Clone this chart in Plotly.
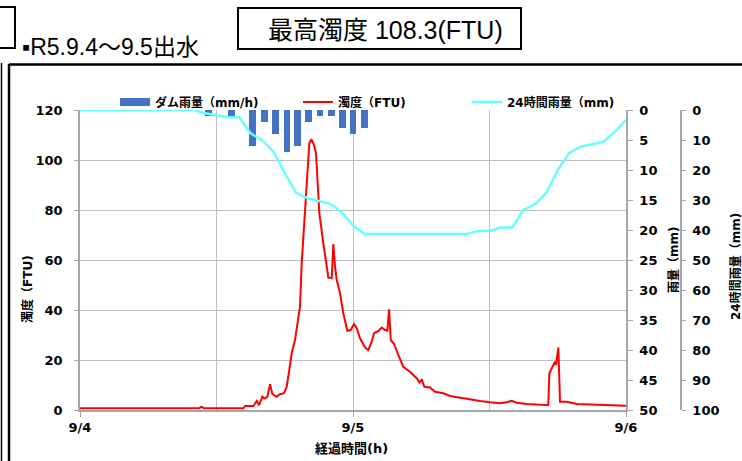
import plotly.graph_objects as go

# ---------------- data ----------------
rain_hours = [11.3, 13.3, 15.2, 16.2, 17.2, 18.2, 19.1, 20.1, 21.1, 22.1, 23.1, 24.0, 25.0]
rain_mm = [1, 1, 6, 2, 4, 7, 6, 2, 1, 1, 3, 4, 3]

cum_hours = list(range(0, 49))
cum24_mm = [0, 0, 0, 0, 0, 0, 0, 0, 0, 0, 0,
            1.1, 1.75, 2.4, 2.4, 7.8, 10, 13.9, 21, 27.6, 29.4, 30.3, 31.3, 34, 38.5, 41.3,
            41.3, 41.3, 41.3, 41.3, 41.3, 41.3, 41.3, 41.3, 41.3,
            40.3, 40.3, 39.2, 39.2, 33.3, 31.4, 27.6, 20, 14.4, 12.2, 11.4, 10.6, 7.4, 3.3]

turb_hours = [0, 10.46, 10.69, 10.89, 14.36, 14.51, 15.24, 15.54, 15.74, 16.03, 16.2, 16.47,
              16.71, 16.91, 17.29, 17.58, 17.94, 18.17, 18.4, 18.61, 18.9, 19.19, 19.34, 19.49,
              19.69, 19.93, 20.16, 20.34, 20.57, 20.75, 20.9, 21.04, 21.39, 21.63, 21.83, 22.13,
              22.27, 22.42, 22.57, 22.86, 23.15, 23.5, 23.8, 24.09, 24.33, 24.62, 25.06, 25.35,
              25.65, 25.85, 26.23, 26.53, 26.82, 27.02, 27.17, 27.32, 27.61, 27.98, 28.42, 29.01,
              29.6, 29.83, 30.04, 30.27, 30.77, 31.21, 31.94, 32.53, 33.85, 35.17, 36.05, 36.93,
              37.51, 37.95, 38.39, 39.27, 40.44, 41.17, 41.26, 41.47, 41.76, 41.85, 42.05, 42.2,
              42.79, 43.67, 45.13, 46.89, 48]
turb_ftu = [0.7, 0.7, 1.3, 0.7, 0.7, 1.6, 1.6, 3.6, 1.9, 5.3, 4.6, 5.3,
            10.3, 6.4, 5.3, 6.3, 6.7, 9.3, 16, 22.7, 28, 36, 41.3, 58.7,
            73.3, 89.3, 106.7, 108.3, 106, 102.7, 89.3, 78.7, 66.7, 60, 53, 52.7,
            66.4, 57.3, 52, 46.7, 38.7, 31.7, 32, 34.3, 32.7, 28.7, 25, 24,
            27.3, 30.7, 31.6, 33, 32, 31.7, 40.3, 28, 26.4, 22, 17.3, 15.3,
            12.7, 11, 12.3, 9.3, 9, 7.3, 6.7, 5.6, 4.5, 3.6, 3.1, 2.7,
            3.1, 3.7, 2.9, 2.4, 2.1, 2.0, 14.7, 16.7, 19.3, 18, 25, 3.3,
            3.3, 2.4, 2.1, 1.9, 1.7]

x_tickvals = [0, 24, 48]
x_ticktext = ["9/4", "9/5", "9/6"]

# ---------------- layout helpers ----------------
W, H = 742, 461
L, R, T, B = 80, 5, 110, 51
PW = W - L - R
PH = H - T - B


def px(x):
    return (x - L) / PW


def py(y):
    return (H - B - y) / PH


FONT = "DejaVu Sans, Noto Sans CJK JP, sans-serif"
TFONT = "Liberation Sans, Noto Sans CJK JP, sans-serif"
GRID = "#bfbfbf"
AX = "#a6a6a6"

fig = go.Figure()

# legend proxy for bars (wide rectangle symbol)
fig.add_trace(go.Scatter(x=[None], y=[None], mode="lines", name="ダム雨量（mm/h)",
                         line=dict(color="#4472C4", width=8), yaxis="y2", legend="legend"))
fig.add_trace(go.Bar(x=rain_hours, y=rain_mm, width=0.6, marker=dict(color="#4472C4", line=dict(width=0)),
                     yaxis="y2", showlegend=False, name="ダム雨量（mm/h)"))
fig.add_trace(go.Scatter(x=turb_hours, y=turb_ftu, mode="lines", name="濁度（FTU)",
                         line=dict(color="#FF0000", width=2), yaxis="y", legend="legend2"))
fig.add_trace(go.Scatter(x=cum_hours, y=cum24_mm, mode="lines", name="24時間雨量（mm)",
                         line=dict(color="#66FFFF", width=2.5), yaxis="y3", legend="legend3"))

tickfont = dict(family=FONT, size=13, color="#000000", weight="bold")
legfont = dict(family=FONT, size=12, color="#000000", weight="bold")


def leg(x0):
    return dict(orientation="h", x=px(x0), y=py(102), xanchor="left", yanchor="middle",
                bgcolor="rgba(0,0,0,0)", font=legfont, itemwidth=30)


fig.update_layout(
    width=W, height=H,
    margin=dict(l=L, r=R, t=T, b=B, autoexpand=False),
    plot_bgcolor="white", paper_bgcolor="white",
    bargap=0,
    xaxis=dict(domain=[0, px(626)], range=[0, 48], tickvals=x_tickvals, ticktext=x_ticktext,
               showgrid=True, gridcolor=GRID, gridwidth=1,
               minor=dict(dtick=12, tick0=0, showgrid=True, gridcolor=GRID, ticks=""),
               showline=True, linecolor=AX, linewidth=1.5, ticks="outside", ticklen=5, tickcolor=AX,
               tickfont=tickfont, zeroline=False),
    yaxis=dict(range=[0, 120], dtick=20, showgrid=True, gridcolor=GRID, gridwidth=1,
               showline=True, linecolor=AX, linewidth=1.5, ticks="outside", ticklen=4, tickcolor=AX,
               tickfont=tickfont, zeroline=False, ticklabelstandoff=9),
    yaxis2=dict(overlaying="y", side="right", anchor="x", range=[50, 0], dtick=5, showgrid=False,
                showline=True, linecolor=AX, linewidth=1.5, ticks="outside", ticklen=5, tickcolor=AX,
                tickfont=tickfont, zeroline=False, ticklabelstandoff=4),
    yaxis3=dict(overlaying="y", side="right", anchor="free", position=px(681), range=[100, 0], dtick=10,
                showgrid=False, showline=True, linecolor=AX, linewidth=1.5, ticks="outside", ticklen=4,
                tickcolor=AX, tickfont=tickfont, zeroline=False, ticklabelstandoff=4),
    legend=leg(115),
    legend2=leg(298),
    legend3=leg(467),
    showlegend=True,
)

shapes = [
    dict(type="rect", xref="paper", yref="paper", x0=px(238), x1=px(521), y0=py(49), y1=py(8),
         line=dict(color="#000000", width=2)),
    dict(type="rect", xref="paper", yref="paper", x0=px(-10), x1=px(15), y0=py(48), y1=py(7),
         line=dict(color="#000000", width=2)),
    dict(type="line", xref="paper", yref="paper", x0=px(9), x1=px(750), y0=py(64.5), y1=py(64.5),
         line=dict(color="#000000", width=2.5)),
    dict(type="line", xref="paper", yref="paper", x0=px(9), x1=px(9), y0=py(64), y1=py(470),
         line=dict(color="#000000", width=2.5)),
    dict(type="line", xref="paper", yref="paper", x0=px(1.5), x1=px(1.5), y0=py(63), y1=py(470),
         line=dict(color="#000000", width=1.5)),
]
fig.update_layout(shapes=shapes)

ann = [
    dict(text="最高濁度 108.3(FTU)", x=px(385), y=py(30), xanchor="center", yanchor="middle",
         font=dict(family=TFONT, size=25, color="#000000")),
    dict(text="▪R5.9.4～9.5出水", x=px(20), y=py(47), xanchor="left", yanchor="middle",
         font=dict(family=TFONT, size=23, color="#000000")),
    dict(text="濁度（FTU)", x=px(27), y=py(289), xanchor="center", yanchor="middle", textangle=-90,
         font=dict(family=FONT, size=12, color="#000000", weight="bold")),
    dict(text="雨量（mm)", x=px(674), y=py(260), xanchor="center", yanchor="middle", textangle=-90,
         font=dict(family=FONT, size=12, color="#000000", weight="bold")),
    dict(text="24時間雨量（mm)", x=px(735), y=py(267), xanchor="center", yanchor="middle", textangle=-90,
         font=dict(family=FONT, size=12, color="#000000", weight="bold")),
    dict(text="経過時間(h)", x=px(351), y=py(449), xanchor="center", yanchor="middle",
         font=dict(family=FONT, size=13, color="#000000", weight="bold")),
]
for a in ann:
    a.update(xref="paper", yref="paper", showarrow=False)
fig.update_layout(annotations=ann)

fig.write_html("out.html", config={"displayModeBar": False},
               post_script="document.body.style.margin='0';document.body.style.padding='0';")
